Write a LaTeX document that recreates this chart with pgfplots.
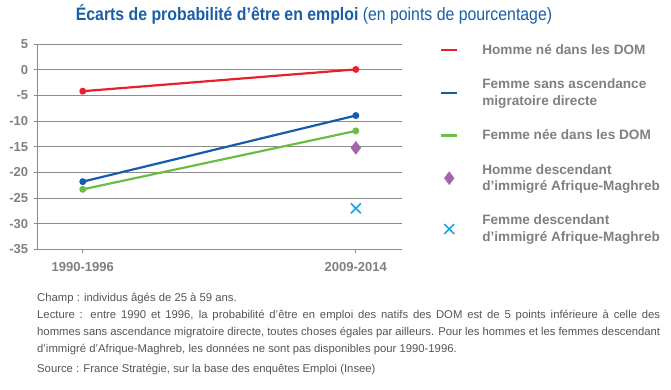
\documentclass[border=0pt]{standalone}
\usepackage{fontspec}
\setmainfont{Liberation Sans}
\newfontfamily\titlefont[FakeStretch=0.88]{Liberation Sans}
\usepackage{pgfplots}
\pgfplotsset{compat=1.18}
\definecolor{tgray}{RGB}{128,128,128}
\definecolor{gridgray}{RGB}{140,140,140}
\definecolor{titleblue}{RGB}{27,94,168}
\definecolor{cred}{RGB}{232,32,42}
\definecolor{cblue}{RGB}{20,93,172}
\definecolor{cgreen}{RGB}{106,189,69}
\definecolor{cpurple}{RGB}{164,102,170}
\definecolor{ccyan}{RGB}{27,161,226}
\definecolor{notegray}{RGB}{85,85,85}
\pgfplotsset{
  lineleg/.style={legend image code/.code={\draw[##1, mark=none] (0pt,0pt) -- (16pt,0pt);}},
  markleg/.style={legend image code/.code={\draw[mark repeat=2,mark phase=2,##1] plot coordinates {(0pt,0pt) (8pt,0pt) (16pt,0pt)};}},
}
\begin{document}
\begin{tikzpicture}[x=1pt,y=1pt]
\path[use as bounding box] (0,0) rectangle (671,-390);
\node[anchor=base, text=titleblue, inner sep=0pt] at (314,-21)
  {\titlefont\fontsize{18}{20}\selectfont\bfseries Écarts de probabilité d’être en emploi \mdseries(en points de pourcentage)};
\begin{axis}[
  scale only axis, width=364pt, height=205pt,
  at={(37.7pt,-249.3pt)}, anchor=south west,
  xmin=-0.165, xmax=1.168, ymin=-35, ymax=5,
  xtick={0,1}, xticklabels={1990-1996,2009-2014},
  ytick={-35,-30,-25,-20,-15,-10,-5,0,5},
  yticklabels={-35,-30,-25,-20,-15,-10,-5,0,5},
  axis x line*=bottom, axis y line*=left,
  axis line style={gridgray, line width=0.9pt, -},
  tick align=outside, major tick length=4pt,
  tick style={gridgray, line width=0.9pt},
  ymajorgrids, grid style={gridgray, line width=0.9pt},
  ticklabel style={font=\fontsize{13}{15}\selectfont\bfseries, text=tgray},
  xticklabel style={yshift=-6pt},
  yticklabel style={xshift=-2pt},
  clip=false,
  legend style={at={(1.105,1.01)}, anchor=north west, draw=none, fill=none,
    font=\fontsize{13.6}{16.5}\selectfont\bfseries, text=tgray,
    cells={align=left, anchor=west}, row sep=19pt, column sep=22pt, inner sep=0pt},
  legend cell align=left,
]
\addplot[cred, line width=2.2pt, mark=*, mark size=2.3pt, lineleg]
  coordinates {(0,-4.15) (1,0.1)};
\addlegendentry{Homme né dans les DOM}
\addplot[cblue, line width=2.2pt, mark=*, mark size=2.3pt, lineleg]
  coordinates {(0,-21.8) (1,-8.9)};
\addlegendentry{Femme sans ascendance\\migratoire directe}
\addplot[cgreen, line width=2.2pt, mark=*, mark size=2.3pt, lineleg]
  coordinates {(0,-23.3) (1,-11.9)};
\addlegendentry{Femme née dans les DOM}
\addplot[only marks, mark=diamond*, mark size=6.5pt, color=cpurple, markleg]
  coordinates {(1,-15.2)};
\addlegendentry{Homme descendant\\d’immigré Afrique-Maghreb}
\addplot[only marks, mark=x, mark size=7pt, line width=1.6pt, color=ccyan, markleg]
  coordinates {(1,-27.0)};
\addlegendentry{Femme descendant\\d’immigré Afrique-Maghreb}
\end{axis}
\node[anchor=north west, inner sep=0pt, text width=623pt, text=notegray, align=justify]
  at (37,-293)
  {\fontsize{11.3}{17}\selectfont
  Champ : individus âgés de 25 à 59 ans.\par
  Lecture : entre 1990 et 1996, la probabilité d’être en emploi des natifs des DOM est de 5 points inférieure à celle des\linebreak hommes sans ascendance migratoire directe, toutes choses égales par ailleurs. Pour les hommes et les femmes descendant\linebreak d’immigré d’Afrique-Maghreb, les données ne sont pas disponibles pour 1990-1996.\par\vspace{3pt}
  Source : France Stratégie, sur la base des enquêtes Emploi (Insee)\par};
\end{tikzpicture}
\end{document}
